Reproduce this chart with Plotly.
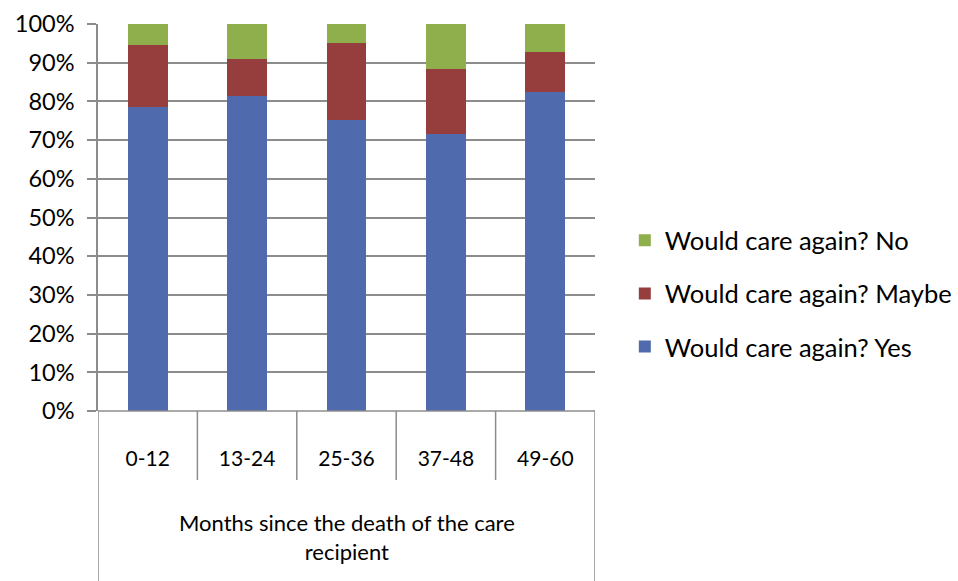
import plotly.graph_objects as go

# Months since the death of the care recipient
categories = ["0-12", "13-24", "25-36", "37-48", "49-60"]

# Share of respondents (%) for each answer
yes_pct = [78.5, 81.4, 75.1, 71.7, 82.4]
maybe_pct = [16.1, 9.6, 20.1, 16.6, 10.3]
no_pct = [5.4, 9.0, 4.8, 11.7, 7.3]

y_ticks = [0, 10, 20, 30, 40, 50, 60, 70, 80, 90, 100]
y_tick_text = [f"{v}%" for v in y_ticks]

FONT = "Lato, Carlito, Calibri, sans-serif"
GRID = "#8c8c8c"

# (name, values, colour, legend rank)
series = [
    ("Would care again? Yes", yes_pct, "#4f6aad", 3),
    ("Would care again? Maybe", maybe_pct, "#953e3d", 2),
    ("Would care again? No", no_pct, "#8fae4c", 1),
]

fig = go.Figure()
for name, vals, color, rank in series:
    fig.add_trace(go.Bar(
        x=categories, y=vals, name=name, legendgroup=name, legendrank=rank,
        marker=dict(color=color, line=dict(width=0)),
        width=0.4,
    ))

L, R, T, B = 98, 363, 23.5, 170
W, H = 958, 581
plot_h = H - T - B

fig.update_layout(
    width=W, height=H,
    barmode="stack",
    margin=dict(l=L, r=R, t=T, b=B, pad=0, autoexpand=False),
    paper_bgcolor="white", plot_bgcolor="white",
    font=dict(family=FONT, size=22, color="black"),
    showlegend=True,
    legend=dict(
        traceorder="grouped", tracegroupgap=17,
        x=1.06, xanchor="left", y=0.303, yanchor="middle",
        font=dict(family=FONT, size=25.5, color="black"),
        itemwidth=30,
    ),
    xaxis=dict(
        range=[-0.5, 4.5], showgrid=False, ticks="", showline=False,
        tickfont=dict(family=FONT, size=21, color="black"),
        ticklabelstandoff=33, fixedrange=True, automargin=False,
    ),
    yaxis=dict(
        range=[0, 100], tickvals=y_ticks, ticktext=y_tick_text,
        showgrid=True, gridcolor=GRID, gridwidth=1.5,
        showline=True, linecolor=GRID, linewidth=1.5,
        ticks="outside", ticklen=9, tickcolor=GRID, tickwidth=1.5,
        ticklabelstandoff=8,
        tickfont=dict(family=FONT, size=23.5, color="black"),
        zeroline=False, fixedrange=True, automargin=False,
    ),
    bargap=0.6,
)

# Category table lines below the plot area
inner_bottom = -(480 - (H - B)) / plot_h
outer_bottom = -(B + 5) / plot_h
for i in range(1, len(categories)):
    fig.add_shape(type="line", xref="x", yref="paper",
                  x0=i - 0.5, x1=i - 0.5, y0=0, y1=inner_bottom,
                  line=dict(color=GRID, width=1.5))
for xv in (-0.5, len(categories) - 0.5):
    fig.add_shape(type="line", xref="x", yref="paper",
                  x0=xv, x1=xv, y0=0, y1=outer_bottom,
                  line=dict(color=GRID, width=1.5))
fig.add_shape(type="line", xref="x", yref="paper",
              x0=-0.5, x1=len(categories) - 0.5, y0=0, y1=0,
              line=dict(color=GRID, width=1.5))

# Axis title inside the table footer
fig.add_annotation(
    text="Months since the death of the care<br>recipient",
    xref="paper", yref="paper", x=0.5, y=-(537 - (H - B)) / plot_h,
    xanchor="center", yanchor="middle", showarrow=False,
    font=dict(family=FONT, size=22, color="black"),
)

fig.write_html("out.html")
